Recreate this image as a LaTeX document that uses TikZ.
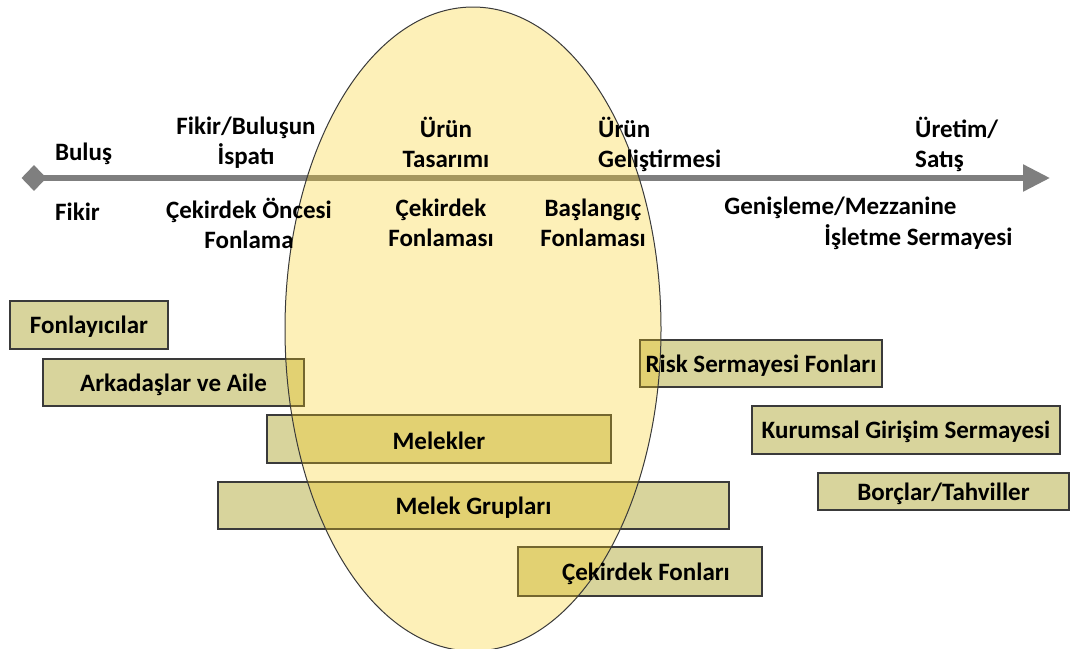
\documentclass[tikz,border=0pt]{standalone}
\usepackage{fontspec}
\setmainfont{Carlito}
\usetikzlibrary{shapes.geometric,arrows.meta}
\definecolor{axisgray}{HTML}{7F7F7F}
\definecolor{boxfill}{HTML}{D8D49C}
\definecolor{stagefill}{RGB}{250,205,20}
\definecolor{edge}{HTML}{3A3A3A}
\begin{document}
\begin{tikzpicture}[x=1pt,y=-1pt,
  fund/.style={draw=edge, line width=1.3pt, fill=boxfill, inner sep=0pt},
  lbl/.style={font=\bfseries\fontsize{25}{30}\selectfont, inner sep=0pt, align=center, text=black},
  ]
\useasboundingbox (0,0) rectangle (1070,648);

% time axis
\node[diamond, fill=axisgray, minimum width=25pt, minimum height=26pt, inner sep=0pt] (dia) at (34,178) {};
\coordinate (axend) at (1050,178);
\draw[axisgray, line width=5.5pt, -{Triangle[length=27pt,width=26pt]}] (dia.center) -- (axend);

% funding sources
\node[fund, minimum width=158pt, minimum height=48pt] (fon)  at (89,325) {};
\node[fund, minimum width=261pt, minimum height=47pt] (ark)  at (173.5,382.5) {};
\node[fund, minimum width=344pt, minimum height=48pt] (mel)  at (439,439) {};
\node[fund, minimum width=511pt, minimum height=47pt] (mgr)  at (473.5,505.5) {};
\node[fund, minimum width=244pt, minimum height=49pt] (cek)  at (640,571.5) {};
\node[fund, minimum width=242pt, minimum height=47pt] (risk) at (761,363.5) {};
\node[fund, minimum width=308pt, minimum height=48pt] (kur)  at (906,430) {};
\node[fund, minimum width=251pt, minimum height=37pt] (bor)  at (943.5,491.5) {};

% early stage window
\node[ellipse, draw=edge, line width=1pt, fill=stagefill, fill opacity=0.3,
      minimum width=376pt, minimum height=644pt, inner sep=0pt] (stage) at (473,329) {};

% box labels (slightly below the box centre)
\node[lbl] (fonT)  at ([yshift=-2pt]fon.center)  {Fonlayıcılar};
\node[lbl] (arkT)  at ([yshift=-2pt]ark.center)  {Arkadaşlar ve Aile};
\node[lbl] (melT)  at ([yshift=-2pt]mel.center)  {Melekler};
\node[lbl] (mgrT)  at ([yshift=-2pt]mgr.center)  {Melek Grupları};
\node[lbl] (cekT)  at ([xshift=6pt,yshift=-2pt]cek.center) {Çekirdek Fonları};
\node[lbl] (riskT) at ([yshift=-2pt]risk.center) {Risk Sermayesi Fonları};
\node[lbl] (kurT)  at ([yshift=-2pt]kur.center)  {Kurumsal Girişim Sermayesi};
\node[lbl] (borT)  at ([yshift=-2pt]bor.center)  {Borçlar/Tahviller};

% stages above the axis
\node[lbl] (buluS) at (83.5,154) {Buluş};
\node[lbl] (ispat) at (246,143) {Fikir/Buluşun\\İspatı};
\node[lbl] (tasar) at (446,142) {Ürün\\Tasarımı};
\node[lbl, anchor=west, align=left] (gelis) at (598,144) {Ürün\\Geliştirmesi};
\node[lbl, anchor=west, align=left] (uret) at (915,144) {Üretim/\\Satış};

% funding rounds below the axis
\node[lbl, anchor=west] (fikir) at (55,212) {Fikir};
\node[lbl] (once)  at (249,223) {Çekirdek Öncesi\\Fonlama};
\node[lbl] (cekf)  at (441,222.5) {Çekirdek\\Fonlaması};
\node[lbl] (basl)  at (593,222.5) {Başlangıç\\Fonlaması};
\node[lbl] (genis) at (840.5,208) {Genişleme/Mezzanine};
\node[lbl] (islet) at (918.5,237) {İşletme Sermayesi};
\end{tikzpicture}
\end{document}
